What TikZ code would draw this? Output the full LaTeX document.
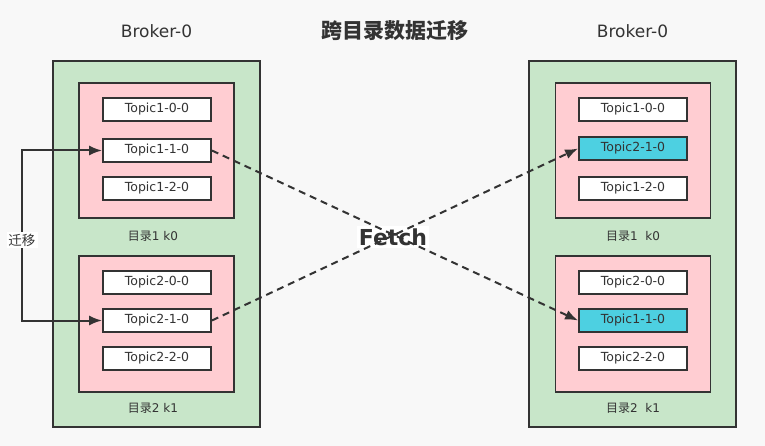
\documentclass[tikz,border=0pt]{standalone}
\usepackage{fontspec}
\setmainfont{DejaVu Sans}
\newfontfamily\cjk{Noto Sans CJK SC}
\usepackage{tikz}
\usetikzlibrary{arrows.meta, positioning}

\definecolor{bgcol}{HTML}{F8F8F8}
\definecolor{brokergreen}{HTML}{C8E6C9}
\definecolor{dirpink}{HTML}{FFCDD2}
\definecolor{movedcyan}{HTML}{4DD0E1}
\definecolor{ink}{HTML}{333333}

\begin{document}
\begin{tikzpicture}[
  x=1pt, y=-1pt,
  every node/.style = {text=ink},
  broker/.style  = {draw=ink, line width=1.8pt, fill=brokergreen,
                    minimum width=207pt, minimum height=366pt, inner sep=0pt},
  dirbox/.style  = {draw=ink, line width=1.8pt, fill=dirpink,
                    minimum width=155pt, minimum height=135pt, inner sep=0pt},
  topic/.style   = {draw=ink, line width=1.8pt, fill=white,
                    minimum width=108pt, minimum height=23pt, inner sep=0pt,
                    font=\fontsize{12.5}{14}\selectfont},
  moved/.style   = {topic, fill=movedcyan},
  title/.style   = {font=\fontsize{17}{19}\selectfont},
  dirlabel/.style= {font=\fontsize{12}{14}\selectfont},
  movearr/.style = {{Latex[length=13pt,width=10pt]}-{Latex[length=13pt,width=10pt]},
                    line width=2pt, draw=ink},
  fetcharr/.style= {-{Latex[length=13pt,width=10pt]}, line width=2pt, draw=ink,
                    dash pattern=on 7pt off 5pt}
]
  \useasboundingbox[fill=bgcol] (0,0) rectangle (765,446);

  %% Titles
  \node[title] (titleL) at (156.5,31) {Broker-0};
  \node[title] (titleR) at (632.5,31) {Broker-0};
  \node[font=\fontsize{21}{23}\selectfont\cjk\bfseries] (title) at (395,31) {跨目录数据迁移};

  %% Left broker
  \node[broker] (brokerL) at (156.5,244) {};
  \node[dirbox] (dirL1) at (156.5,150.5) {};
  \node[dirbox, minimum height=136pt] (dirL2) at (156.5,324) {};
  \node[topic] (tL100) at (157,109.5) {Topic1-0-0};
  \node[topic] (tL110) at (157,150.5) {Topic1-1-0};
  \node[topic] (tL120) at (157,188.5) {Topic1-2-0};
  \node[topic] (tL200) at (157,282.5) {Topic2-0-0};
  \node[topic] (tL210) at (157,320.5) {Topic2-1-0};
  \node[topic] (tL220) at (157,358.5) {Topic2-2-0};
  \node[dirlabel] (labL1) at (153,236) {{\cjk 目录}1 k0};
  \node[dirlabel] (labL2) at (153,408) {{\cjk 目录}2 k1};

  %% Right broker
  \node[broker] (brokerR) at (632.5,244) {};
  \node[dirbox] (dirR1) at (633,150.5) {};
  \node[dirbox, minimum height=136pt] (dirR2) at (633,324) {};
  \node[topic] (tR100) at (633,109.5) {Topic1-0-0};
  \node[moved] (tR210) at (633,148.5) {Topic2-1-0};
  \node[topic] (tR120) at (633,188.5) {Topic1-2-0};
  \node[topic] (tR200) at (633,282.5) {Topic2-0-0};
  \node[moved] (tR110) at (633,320.5) {Topic1-1-0};
  \node[topic] (tR220) at (633,358.5) {Topic2-2-0};
  \node[dirlabel] (labR1) at (633,236) {{\cjk 目录}1~~k0};
  \node[dirlabel] (labR2) at (633,408) {{\cjk 目录}2~~k1};

  %% Migration inside the broker
  \coordinate (bendT) at (22,150.5);
  \coordinate (bendB) at (22,320.5);
  \draw[movearr] (tL110.west) -- (bendT) -- (bendB) -- (tL210.west);
  \node[fill=white, inner sep=2pt, font=\fontsize{13.5}{15}\selectfont\cjk]
       (move) at (22,240) {迁移};

  %% Fetch across brokers (label sits under the dashes)
  \node[fill=white, inner sep=2pt, font=\fontsize{22}{24}\selectfont\bfseries]
       (fetch) at (393,237) {Fetch};
  \draw[fetcharr] (tL110.east) -- (tR110.west);
  \draw[fetcharr] (tL210.east) -- (tR210.west);
\end{tikzpicture}
\end{document}
